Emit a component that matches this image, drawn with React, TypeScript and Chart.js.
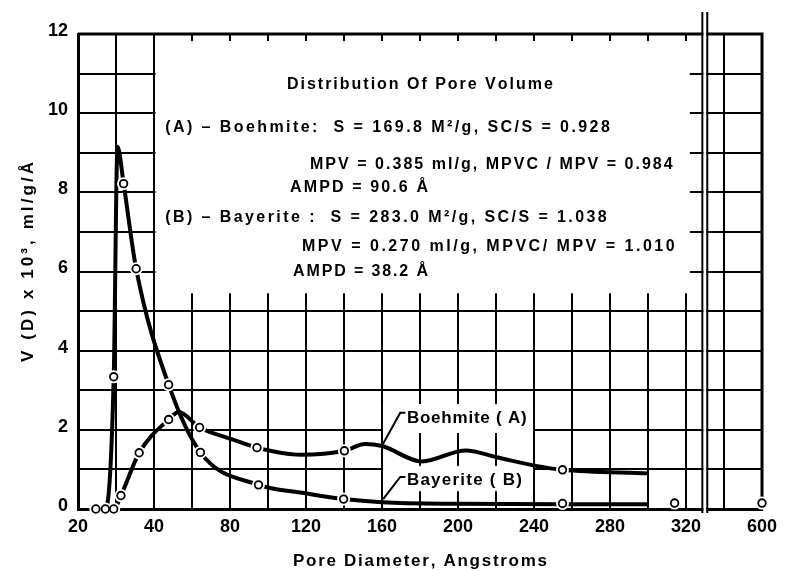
import React, { useEffect, useRef } from "react";
import { Chart, registerables } from "chart.js";

Chart.register(...registerables);

// ---- Broken / piecewise pore-diameter axis (Å) ----
const axisStops = [20, 40, 320, 600];
const axisUnits = [0, 2, 16, 18];
const xTickLabels = ["20", "40", "80", "120", "160", "200", "240", "280", "320", "600"];
const yTickLabels = ["0", "", "2", "", "4", "", "6", "", "8", "", "10", "", "12"];

// ---- Boehmite (A) ----
const boehmiteCurveD = [24.7, 29.4, 31.3, 36.1, 47.7, 53, 64, 80, 94.2, 117, 140.2, 151, 160, 181, 204, 221, 241, 255, 300];
const boehmiteCurveV = [0, 0, 0.34, 1.42, 2.26, 2.45, 2.06, 1.78, 1.55, 1.37, 1.47, 1.64, 1.59, 1.2, 1.48, 1.3, 1.09, 0.99, 0.9];
const boehmitePointD = [29.4, 31.3, 36.1, 47.7, 64, 94.2, 140.2, 255];
const boehmitePointV = [0, 0.34, 1.42, 2.26, 2.06, 1.55, 1.47, 0.99];

// ---- Bayerite (B) ----
const bayeriteCurveD = [24.7, 27.2, 29.4, 30.4, 32, 35.3, 47.7, 64.4, 95, 118, 139.8, 160, 200, 255, 300];
const bayeriteCurveV = [0, 0, 3.34, 9.15, 8.22, 6.07, 3.14, 1.43, 0.61, 0.41, 0.25, 0.17, 0.13, 0.12, 0.12];
const bayeritePointD = [24.7, 27.2, 29.4, 32, 35.3, 47.7, 64.4, 95, 139.8, 255, 314, 600];
const bayeritePointV = [0, 0, 3.34, 8.22, 6.07, 3.14, 1.43, 0.61, 0.25, 0.14, 0.15, 0.15];

// ---- Text ----
const infoTexts = [
  "Distribution Of Pore Volume",
  "(A) – Boehmite:  S = 169.8 M²/g, SC/S = 0.928",
  "MPV = 0.385 ml/g, MPVC / MPV = 0.984",
  "AMPD = 90.6 Å",
  "(B) – Bayerite :  S = 283.0 M²/g, SC/S = 1.038",
  "MPV = 0.270 ml/g, MPVC/ MPV = 1.010",
  "AMPD = 38.2 Å",
];
const seriesLabels = ["Boehmite ( A)", "Bayerite ( B)"];
const xTitle = "Pore Diameter, Angstroms";
const yTitle = "V (D) x 10³, ml/g/Å";

// layout of the annotation block (in data coordinates: Å, V)
const infoLayout = [
  { from: 110.0, to: 249.9, v: 10.71 },
  { from: 45.9, to: 279.9, v: 9.63 },
  { from: 122.1, to: 313.0, v: 8.69 },
  { from: 111.6, to: 184.2, v: 8.11 },
  { from: 45.9, to: 278.3, v: 7.35 },
  { from: 117.9, to: 314.0, v: 6.62 },
  { from: 113.2, to: 184.2, v: 5.99 },
];
const labelLayout = [
  { from: 173.1, to: 236.2, v: 2.3, lead: [[160, 1.6], [169.6, 2.43], [172.3, 2.43]], box: [160.5, 239.5, 2.65, 1.92] },
  { from: 173.1, to: 233.6, v: 0.73, lead: [[160.6, 0.25], [169.6, 0.81], [172.3, 0.81]], box: [160.5, 239.5, 1.09, 0.45] },
];

const FONT = "Liberation Sans, Arial, sans-serif";

function toUnit(d: number): number {
  const n = axisStops.length;
  for (let i = 0; i < n - 1; i++) {
    if (d <= axisStops[i + 1] || i === n - 2) {
      return axisUnits[i] + ((d - axisStops[i]) * (axisUnits[i + 1] - axisUnits[i])) / (axisStops[i + 1] - axisStops[i]);
    }
  }
  return 0;
}

const toXY = (ds: number[], vs: number[]) => ds.map((d, i) => ({ x: toUnit(d), y: vs[i] }));

function spacedText(ctx: CanvasRenderingContext2D, text: string, x0: number, x1: number, yc: number, font: string) {
  ctx.font = font;
  ctx.textBaseline = "middle";
  ctx.textAlign = "left";
  const chars = Array.from(text);
  const widths = chars.map((c) => ctx.measureText(c).width);
  const natural = widths.reduce((a, b) => a + b, 0);
  const gap = chars.length > 1 ? (x1 - x0 - natural) / (chars.length - 1) : 0;
  let x = x0;
  chars.forEach((c, i) => {
    ctx.fillText(c, x, yc);
    x += widths[i] + gap;
  });
}

const decorPlugin = {
  id: "decor",
  beforeDraw(chart: any) {
    const { ctx, width, height } = chart;
    ctx.save();
    ctx.fillStyle = "#fff";
    ctx.fillRect(0, 0, width, height);
    ctx.restore();
  },
  beforeDatasetsDraw(chart: any) {
    const { ctx, chartArea: ca, scales } = chart;
    const xs = scales.x;
    const ys = scales.y;
    const X = (d: number) => xs.getPixelForValue(toUnit(d));
    const Y = (v: number) => ys.getPixelForValue(v);
    ctx.save();
    // white panel behind the information block
    ctx.fillStyle = "#fff";
    const pl = X(40) + 1.5;
    const pr = xs.getPixelForValue(16.1);
    ctx.fillRect(pl, ca.top, pr - pl, Y(5.45) - ca.top);
    // white boxes behind series labels
    labelLayout.forEach((l) => {
      const [a, b, t, bt] = l.box;
      ctx.fillRect(X(a), Y(t), X(b) - X(a), Y(bt) - Y(t));
    });
    // frame: top and right
    ctx.strokeStyle = "#000";
    ctx.lineWidth = 3;
    ctx.beginPath();
    ctx.moveTo(ca.left, ca.top);
    ctx.lineTo(ca.right, ca.top);
    ctx.lineTo(ca.right, ca.bottom);
    ctx.stroke();
    // short ticks along the top edge of the panel
    ctx.lineWidth = 2;
    for (let u = 3; u <= 16; u++) {
      const px = xs.getPixelForValue(u);
      ctx.beginPath();
      ctx.moveTo(px, ca.top);
      ctx.lineTo(px, ca.top + 7);
      ctx.stroke();
    }
    // axis break
    const b1 = xs.getPixelForValue(16.43);
    const b2 = xs.getPixelForValue(16.56);
    ctx.fillStyle = "#fff";
    ctx.fillRect(b1 + 1, ca.top - 25, b2 - b1 - 2, ca.bottom - ca.top + 32);
    ctx.lineWidth = 2;
    [b1, b2].forEach((bx) => {
      ctx.beginPath();
      ctx.moveTo(bx, ca.top - 22);
      ctx.lineTo(bx, ca.bottom + 4);
      ctx.stroke();
    });
    // information text
    ctx.fillStyle = "#000";
    infoTexts.forEach((t, i) => {
      const l = infoLayout[i];
      spacedText(ctx, t, X(l.from), X(l.to), Y(l.v), `bold 16px ${FONT}`);
    });
    // series labels with leader lines
    labelLayout.forEach((l, i) => {
      ctx.lineWidth = 2;
      ctx.beginPath();
      l.lead.forEach(([d, v], k) => {
        if (k === 0) ctx.moveTo(X(d), Y(v));
        else ctx.lineTo(X(d), Y(v));
      });
      ctx.stroke();
      spacedText(ctx, seriesLabels[i], X(l.from), X(l.to), Y(l.v), `bold 17px ${FONT}`);
    });
    ctx.restore();
  },
  afterDraw(chart: any) {
    const { ctx } = chart;
    ctx.save();
    ctx.fillStyle = "#000";
    spacedText(ctx, xTitle, 293, 547, 561, `bold 17px ${FONT}`);
    ctx.translate(28, 262);
    ctx.rotate(-Math.PI / 2);
    spacedText(ctx, yTitle, -100, 100, 0, `bold 17px ${FONT}`);
    ctx.restore();
  },
};

export default function App() {
  const ref = useRef<HTMLCanvasElement | null>(null);
  useEffect(() => {
    if (!ref.current) return;
    const circle = {
      type: "scatter" as const,
      pointRadius: 3.8,
      pointBackgroundColor: "#fff",
      pointBorderColor: "#000",
      pointBorderWidth: 1.8,
      showLine: false,
      clip: false as any,
      order: 1,
    };
    const halo = {
      type: "scatter" as const,
      pointRadius: 6.5,
      pointBackgroundColor: "#fff",
      pointBorderColor: "rgba(0,0,0,0)",
      pointBorderWidth: 0,
      showLine: false,
      clip: false as any,
      order: 2,
    };
    const curve = {
      type: "line" as const,
      borderColor: "#000",
      borderWidth: 4,
      pointRadius: 0,
      cubicInterpolationMode: "monotone" as const,
      fill: false,
      clip: false as any,
      order: 3,
    };
    const chart = new Chart(ref.current, {
      type: "line",
      data: {
        datasets: [
          { ...curve, label: "Boehmite (A)", data: toXY(boehmiteCurveD, boehmiteCurveV) },
          { ...curve, label: "Bayerite (B)", data: toXY(bayeriteCurveD, bayeriteCurveV) },
          { ...halo, label: "halo A", data: toXY(boehmitePointD, boehmitePointV) },
          { ...halo, label: "halo B", data: toXY(bayeritePointD, bayeritePointV) },
          { ...circle, label: "Boehmite (A) points", data: toXY(boehmitePointD, boehmitePointV) },
          { ...circle, label: "Bayerite (B) points", data: toXY(bayeritePointD, bayeritePointV) },
        ] as any,
      },
      options: {
        animation: false,
        responsive: false,
        events: [],
        layout: { padding: { top: 34, right: 23, left: 0, bottom: 0 } },
        plugins: { legend: { display: false }, tooltip: { enabled: false }, title: { display: false } },
        scales: {
          x: {
            type: "linear",
            min: 0,
            max: 18,
            afterFit: (s: any) => {
              s.height = 62;
            },
            grid: { color: "#000", lineWidth: 2, drawTicks: false },
            border: { display: true, color: "#000", width: 3 },
            ticks: {
              stepSize: 1,
              autoSkip: false,
              maxRotation: 0,
              minRotation: 0,
              padding: 7,
              color: "#000",
              font: { family: FONT, size: 18, weight: "bold" },
              callback: (v: any) => {
                const n = Number(v);
                return Number.isInteger(n) && n % 2 === 0 ? xTickLabels[n / 2] : "";
              },
            },
          },
          y: {
            type: "linear",
            min: 0,
            max: 12,
            afterFit: (s: any) => {
              s.width = 78;
            },
            grid: { color: "#000", lineWidth: 2, drawTicks: false },
            border: { display: true, color: "#000", width: 3 },
            ticks: {
              stepSize: 1,
              autoSkip: false,
              padding: 10,
              labelOffset: -3,
              color: "#000",
              font: { family: FONT, size: 18, weight: "bold" },
              callback: (v: any) => {
                const n = Number(v);
                return Number.isInteger(n) ? yTickLabels[n] : "";
              },
            },
          },
        },
      },
      plugins: [decorPlugin],
    });
    return () => chart.destroy();
  }, []);
  return (
    <div style={{ position: "fixed", left: 0, top: 0, width: 785, height: 571, background: "#fff" }}>
      <canvas ref={ref} width={785} height={571} style={{ display: "block", width: 785, height: 571 }} />
    </div>
  );
}
